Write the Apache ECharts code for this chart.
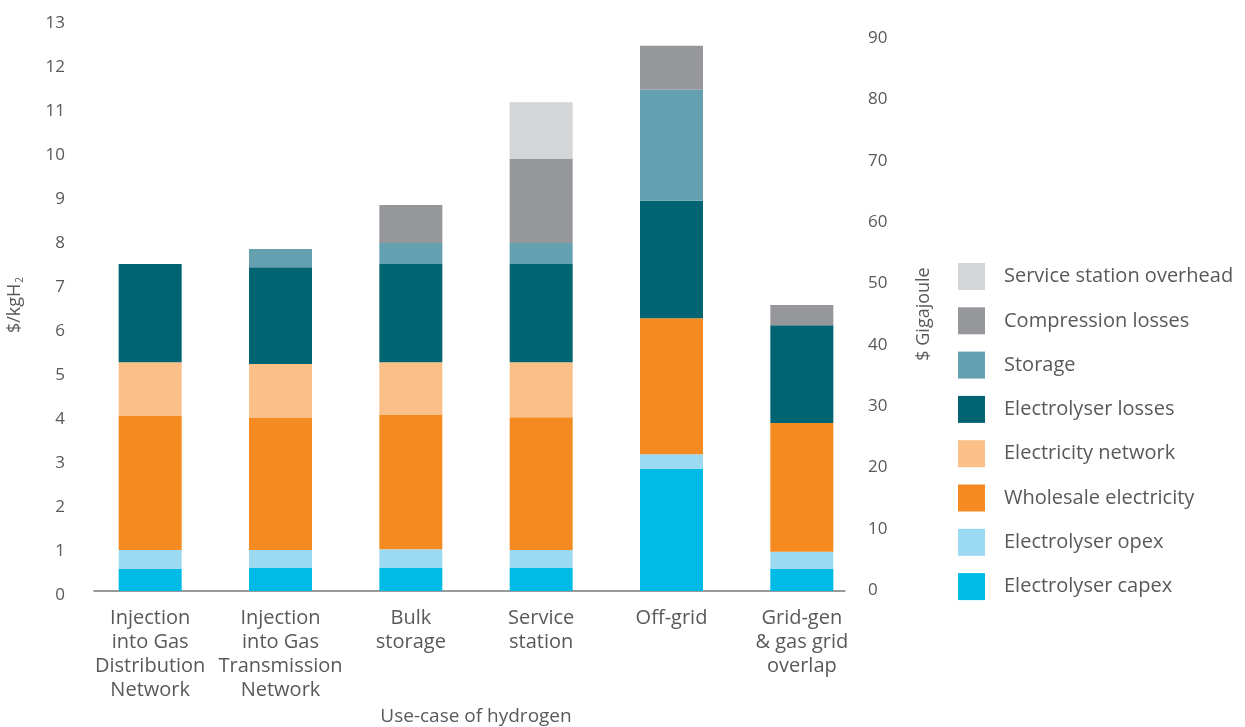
<!DOCTYPE html>
<html>
<head>
<meta charset="utf-8">
<script src="https://cdn.jsdelivr.net/npm/echarts@6/dist/echarts.min.js"></script>
<style>html,body{margin:0;padding:0;background:#fff;}#c{width:1245px;height:727px;}</style>
</head>
<body>
<div id="c"></div>
<script>
const categories = ['Injection\ninto Gas\nDistribution\nNetwork', 'Injection\ninto Gas\nTransmission\nNetwork', 'Bulk\nstorage', 'Service\nstation', 'Off-grid', 'Grid-gen\n& gas grid\noverlap'];
const electrolyserCapex      = [0.50, 0.52, 0.52, 0.52, 2.77, 0.50];
const electrolyserOpex       = [0.43, 0.41, 0.43, 0.41, 0.34, 0.39];
const wholesaleElectricity   = [3.05, 3.00, 3.05, 3.02, 3.09, 2.93];
const electricityNetwork     = [1.22, 1.23, 1.20, 1.25, 0, 0];
const electrolyserLosses     = [2.23, 2.20, 2.23, 2.23, 2.67, 2.22];
const storage                = [0, 0.41, 0.48, 0.48, 2.52, 0];
const compressionLosses      = [0, 0, 0.86, 1.91, 1.00, 0.46];
const serviceStationOverhead = [0, 0, 0, 1.29, 0, 0];
const leftTicks = {min: 0, max: 13, interval: 1};
const rightTicks = {min: 0, max: 90, interval: 10};

const seriesDefs = [
  ['Electrolyser capex', electrolyserCapex, '#00BBE6'],
  ['Electrolyser opex', electrolyserOpex, '#9BDAF1'],
  ['Wholesale electricity', wholesaleElectricity, '#F58A21'],
  ['Electricity network', electricityNetwork, '#FBBF88'],
  ['Electrolyser losses', electrolyserLosses, '#006472'],
  ['Storage', storage, '#64A0AF'],
  ['Compression losses', compressionLosses, '#96979B'],
  ['Service station overhead', serviceStationOverhead, '#D4D5D7']
];
const FONT = '"Open Sans", sans-serif';
const TXT = '#58595B';

const chart = echarts.init(document.getElementById('c'));
chart.setOption({
  animation: false,
  textStyle: {fontFamily: FONT},
  grid: [
    {left: 85, right: 378, top: 19, bottom: 136, outerBoundsMode: 'none', containLabel: false},
    {left: 94, right: 400, top: 38, bottom: 137, outerBoundsMode: 'none', containLabel: false},
    {left: 94, right: 400, top: 19, bottom: 136, outerBoundsMode: 'none', containLabel: false}
  ],
  legend: {
    orient: 'vertical', left: 953, top: 258,
    itemWidth: 27, itemHeight: 27, itemGap: 17.3, icon: 'rect',
    data: seriesDefs.map(d => d[0]).reverse(),
    textStyle: {fontFamily: FONT, fontSize: 20, color: TXT, padding: [0, 0, 0, 14]}
  },
  xAxis: [
    {type: 'category', gridIndex: 0, data: categories,
     axisLine: {show: false}, axisTick: {show: false},
     axisLabel: {interval: 0, fontSize: 20, lineHeight: 24, margin: 15, color: TXT, fontFamily: FONT},
     name: 'Use-case of hydrogen', nameLocation: 'middle', nameGap: 115,
     nameTextStyle: {fontSize: 19, color: TXT, fontFamily: FONT}},
    {type: 'category', gridIndex: 1, data: [''], show: false},
    {type: 'category', gridIndex: 2, data: [''],
     axisLine: {show: true, lineStyle: {color: '#7a7a7a', width: 1.5}},
     axisTick: {show: false}, axisLabel: {show: false}}
  ],
  yAxis: [
    {type: 'value', gridIndex: 0, min: leftTicks.min, max: leftTicks.max, interval: leftTicks.interval,
     splitLine: {show: false}, axisLine: {show: false}, axisTick: {show: false},
     axisLabel: {fontSize: 17, color: TXT, margin: 20, verticalAlign: 'top', lineHeight: 8, fontFamily: FONT},
     name: '$/kgH{sub|2}', nameLocation: 'middle', nameGap: 60, nameRotate: 90,
     nameTextStyle: {fontSize: 18, color: TXT, fontFamily: FONT,
       rich: {sub: {fontSize: 10, color: TXT, verticalAlign: 'bottom', padding: [10, 0, 0, 1], fontFamily: FONT}}}},
    {type: 'value', gridIndex: 1, position: 'right', min: rightTicks.min, max: rightTicks.max, interval: rightTicks.interval,
     splitLine: {show: false}, axisLine: {show: false}, axisTick: {show: false},
     axisLabel: {fontSize: 17, color: TXT, margin: 23, fontFamily: FONT},
     name: '$ Gigajoule', nameLocation: 'middle', nameGap: 70, nameRotate: 90,
     nameTextStyle: {fontSize: 18, color: TXT, fontFamily: FONT}},
    {type: 'value', gridIndex: 2, show: false, min: 0, max: 1}
  ],
  series: seriesDefs.map(d => ({
    name: d[0], type: 'bar', stack: 'total', xAxisIndex: 0, yAxisIndex: 0,
    barWidth: 63, data: d[1], itemStyle: {color: d[2]}
  }))
});
</script>
</body>
</html>
